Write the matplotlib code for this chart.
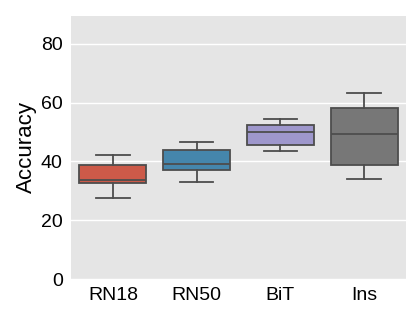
import matplotlib
matplotlib.use("Agg")
import matplotlib.pyplot as plt
import seaborn as sns

categories = ["RN18", "RN50", "BiT", "Ins"]
whisker_low = [27.7, 33.1, 43.6, 34.1]
q1 = [32.7, 36.9, 45.4, 38.6]
median = [33.7, 39.1, 49.9, 49.3]
q3 = [38.8, 43.7, 52.5, 58.1]
whisker_high = [42.2, 46.7, 54.4, 63.4]
y_ticks = [0, 20, 40, 60, 80]

base_colors = ["#E24A33", "#348ABD", "#988ED5", "#777777"]
colors = [sns.desaturate(c, 0.75) for c in base_colors]
line_color = "#4d4d4d"

plt.rcParams['font.family'] = ['Liberation Sans', 'DejaVu Sans']

fig = plt.figure(figsize=(4.15, 3.11), dpi=100)
ax = fig.add_axes([71 / 415, 1 - 279 / 311, 335 / 415, 263.5 / 311])
ax.set_facecolor("#E5E5E5")

stats = []
for i, c in enumerate(categories):
    stats.append(dict(label=c, whislo=whisker_low[i], q1=q1[i], med=median[i],
                      q3=q3[i], whishi=whisker_high[i], fliers=[]))

bp = ax.bxp(stats, positions=range(len(categories)), widths=0.8,
            patch_artist=True, showfliers=False,
            boxprops=dict(edgecolor=line_color, linewidth=1.3),
            medianprops=dict(color=line_color, linewidth=1.3),
            whiskerprops=dict(color=line_color, linewidth=1.3),
            capprops=dict(color=line_color, linewidth=1.3),
            capwidths=0.4)
for patch, col in zip(bp["boxes"], colors):
    patch.set_facecolor(col)

ax.set_xlim(-0.5, len(categories) - 0.5)
ax.set_ylim(0, 89.6)
ax.set_yticks(y_ticks)
ax.set_xticks(range(len(categories)))
ax.set_xticklabels(categories)
ax.grid(axis="y", color="white", linewidth=1.0)
ax.set_axisbelow(True)
for s in ax.spines.values():
    s.set_visible(False)
ax.tick_params(axis="both", length=0, labelsize=14, pad=6, colors="black")
ax.set_ylabel("Accuracy", fontsize=16, labelpad=3)

fig.savefig("out.png", dpi=100)
